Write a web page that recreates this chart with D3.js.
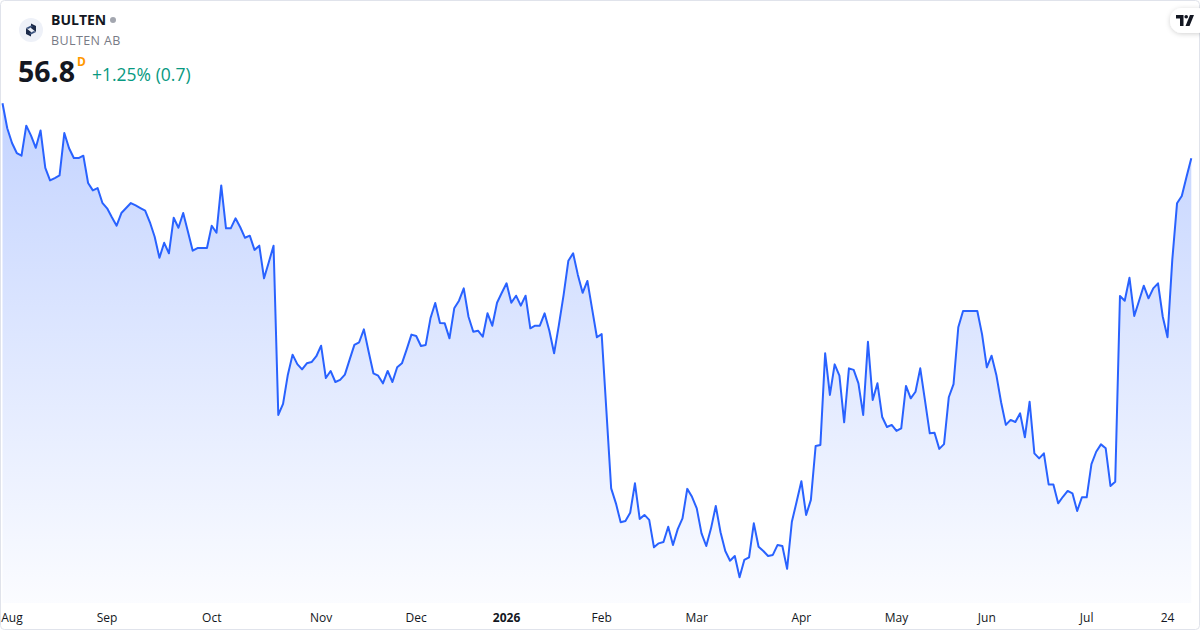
<!DOCTYPE html>
<html>
<head>
<meta charset="utf-8">
<script src="https://cdn.jsdelivr.net/npm/d3@7"></script>
<style>
html,body{margin:0;padding:0;background:#fff;}
svg{display:block;font-family:"Open Sans","Noto Sans",sans-serif;}
</style>
</head>
<body>
<svg id="chart" width="1200" height="630"></svg>
<script>
// ---- DATA ----
const symbol = "BULTEN";
const companyName = "BULTEN AB";
const lastPrice = "56.8";
const changeText = "+1.25% (0.7)";
const intervalLabel = "D";

// daily closes (SEK), trading day index 0 = 31 Jul 2025 .. 250 = 31 Jul 2026
const closes = [
58.89,57.94,57.38,57.00,56.90,58.04,57.66,57.20,57.86,56.44,
55.96,56.05,56.15,57.76,57.18,56.81,56.81,56.90,55.86,55.58,
55.67,55.11,54.90,54.56,54.24,54.72,54.91,55.10,55.01,54.91,
54.81,54.37,53.82,53.02,53.59,53.19,54.54,54.16,54.72,54.01,
53.29,53.39,53.39,53.39,54.24,53.97,55.77,54.14,54.14,54.52,
54.18,53.78,53.86,53.32,53.48,52.24,52.85,53.48,47.05,47.47,
48.57,49.34,48.98,48.78,49.01,49.06,49.28,49.68,48.45,48.72,
48.30,48.38,48.58,49.15,49.71,49.81,50.30,49.45,48.63,48.54,
48.25,48.72,48.30,48.86,49.01,49.54,50.10,50.05,49.67,49.71,
50.72,51.30,50.54,50.53,49.96,51.10,51.39,51.86,50.78,50.21,
50.25,50.02,50.91,50.44,51.31,51.69,52.05,51.31,51.58,51.20,
51.58,50.34,50.44,50.44,50.91,50.25,49.39,50.46,51.61,52.91,
53.19,52.37,51.69,52.14,51.07,50.00,50.12,47.20,44.26,43.69,
42.97,43.02,43.33,44.45,43.10,43.25,43.06,42.02,42.17,42.22,
42.80,42.11,42.71,43.12,44.24,43.94,43.50,42.55,42.07,42.74,
43.59,42.59,41.88,41.51,41.69,40.88,41.54,41.64,42.93,42.04,
41.88,41.69,41.73,42.11,42.07,41.20,42.99,43.75,44.53,43.25,
43.82,45.87,45.91,49.39,47.81,48.97,48.54,46.77,48.82,48.76,
48.25,47.05,49.83,47.62,48.25,46.97,46.59,46.67,46.44,46.54,
48.15,47.68,47.93,48.82,47.59,46.35,46.37,45.76,45.94,47.72,
48.22,50.38,51.00,51.00,51.00,51.00,50.11,48.86,49.30,48.57,
47.53,46.67,46.86,46.78,47.11,46.20,47.55,45.59,45.40,45.59,
44.41,44.41,43.69,43.94,44.16,44.07,43.40,43.92,43.92,45.18,
45.65,45.93,45.78,44.35,44.51,51.57,51.39,52.26,50.81,51.38,
51.96,51.48,51.86,52.05,50.78,50.00,52.94,55.09,55.37,56.10,
56.80
];

// x-axis ticks: label and trading-day index of first session
const tickLabels = ["Aug","Sep","Oct","Nov","Dec","2026","Feb","Mar","Apr","May","Jun","Jul","24"];
const tickIndex  = [1,22,44,67,87,106,126,146,168,188,207,228,245];
const boldTicks  = ["2026"];

// ---- DRAW ----
const W = 1200, H = 630;
const svg = d3.select("#chart");
const defs = svg.append("defs");

const grad = defs.append("linearGradient")
  .attr("id","areaGrad")
  .attr("gradientUnits","userSpaceOnUse")
  .attr("x1",0).attr("y1",100).attr("x2",0).attr("y2",603);
grad.append("stop").attr("offset","0%").attr("stop-color","#2962ff").attr("stop-opacity",0.28);
grad.append("stop").attr("offset","100%").attr("stop-color","#2962ff").attr("stop-opacity",0.02);

const shadow = defs.append("filter").attr("id","shadow").attr("x","-50%").attr("y","-50%").attr("width","200%").attr("height","200%");
shadow.append("feDropShadow").attr("dx",0).attr("dy",1).attr("stdDeviation",2.5).attr("flood-color","#000").attr("flood-opacity",0.18);

// background card
svg.append("rect").attr("x",0.5).attr("y",0.5).attr("width",W-1).attr("height",H-1)
  .attr("rx",4).attr("fill","#fff").attr("stroke","#e0e3eb");

const x = d3.scaleLinear().domain([0, closes.length-1]).range([2.5, 1191.3]);
const y = d3.scaleLinear().domain(d3.extent(closes)).range([577.3, 103.3]);
const plotBottom = 603;

const area = d3.area().x((d,i)=>x(i)).y0(plotBottom).y1(d=>y(d));
const line = d3.line().x((d,i)=>x(i)).y(d=>y(d));

svg.append("path").datum(closes).attr("d",area).attr("fill","url(#areaGrad)");
svg.append("path").datum(closes).attr("d",line).attr("fill","none")
  .attr("stroke","#2962ff").attr("stroke-width",2).attr("stroke-linejoin","round");

// x axis labels
const axisG = svg.append("g");
tickLabels.forEach((lab,k)=>{
  let cx = x(tickIndex[k]);
  const t = axisG.append("text").attr("y",622).attr("font-size",12)
    .attr("fill","#131722").attr("text-anchor","middle")
    .attr("font-weight", boldTicks.includes(lab) ? 700 : 400)
    .text(lab);
  const bb = t.node().getBBox();
  if (cx - bb.width/2 < 1) cx = 1 + bb.width/2;
  t.attr("x", cx);
});

// header
const hdr = svg.append("g");
hdr.append("circle").attr("cx",31).attr("cy",30).attr("r",12).attr("fill","#eef1f8");
const lg = hdr.append("g").attr("transform","translate(31,30)");
lg.append("path").attr("d","M-5,-2 L-5,4 L0,6.5 L0,2 Z").attr("fill","#1c2b4a");
lg.append("path").attr("d","M5,2 L5,-4 L0,-6.5 L0,-2 Z").attr("fill","#1c2b4a");
lg.append("path").attr("d","M-5,-2 L0,-4.5 L2,-3.5 L-3,-1 Z").attr("fill","#3d5580");
lg.append("path").attr("d","M5,2 L0,4.5 L-2,3.5 L3,1 Z").attr("fill","#3d5580");

hdr.append("text").attr("x",51).attr("y",25).attr("font-size",14).attr("font-weight",700)
  .attr("fill","#131722").text(symbol);
hdr.append("circle").attr("cx",113).attr("cy",20).attr("r",3).attr("fill","#a3a6af");
hdr.append("text").attr("x",51).attr("y",45).attr("font-size",12.5).attr("fill","#787b86")
  .attr("letter-spacing",0.4).text(companyName);
hdr.append("text").attr("x",18).attr("y",82).attr("font-size",28.5).attr("font-weight",700)
  .attr("fill","#131722").text(lastPrice);
hdr.append("text").attr("x",77).attr("y",66).attr("font-size",12).attr("font-weight",700)
  .attr("fill","#ff9800").text(intervalLabel);
hdr.append("text").attr("x",92).attr("y",81).attr("font-size",17.5)
  .attr("fill","#089981").text(changeText);

// TradingView badge
const tv = svg.append("g");
tv.append("rect").attr("x",1170).attr("y",8).attr("width",40).attr("height",25).attr("rx",12)
  .attr("fill","#fff").attr("filter","url(#shadow)");
const tg = tv.append("g").attr("transform","translate(1176,15)").attr("fill","#131722");
tg.append("path").attr("d","M0,0 H7.5 V11 H4 V3.5 H0 Z");
tg.append("circle").attr("cx",10.2).attr("cy",1.8).attr("r",1.8);
tg.append("path").attr("d","M14,0 H18 L13.5,11 H9.5 Z");
</script>
</body>
</html>
